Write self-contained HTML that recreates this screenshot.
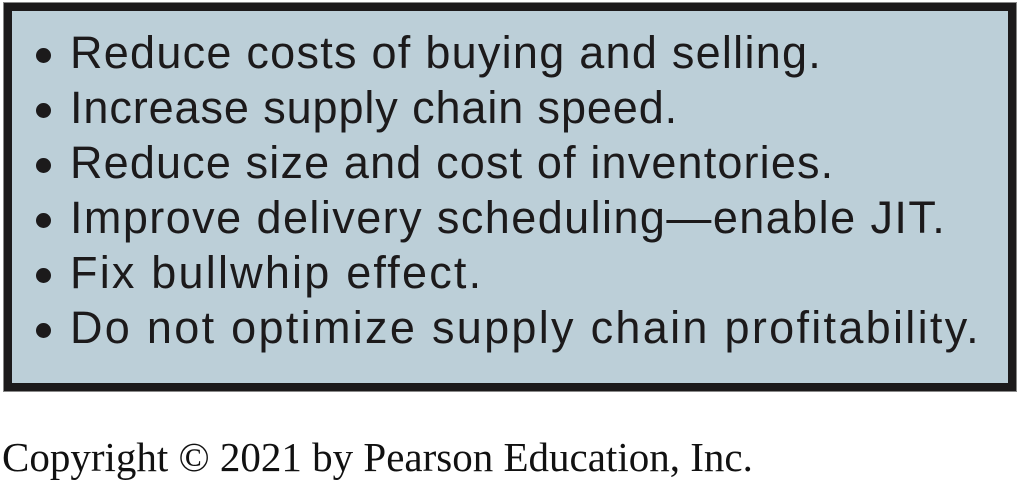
<!DOCTYPE html>
<html><head><meta charset="utf-8"><style>
body{margin:0;width:1020px;height:483px;background:#fff;position:relative;overflow:hidden}
#box{position:absolute;left:4px;top:3px;width:996px;height:372px;border:8px solid #1c1a1b;background:#bccfd8;outline:1px solid #888}
.li{position:absolute;left:70px;font-family:"Liberation Sans",sans-serif;font-size:45px;letter-spacing:2.2px;color:#1c1a1b;white-space:nowrap;line-height:1}
.b{position:absolute;left:36px;width:15px;height:15px;border-radius:50%;background:#1c1a1b}
#copy{position:absolute;left:2px;top:437px;font-family:"Liberation Serif",serif;font-size:41px;color:#111;white-space:nowrap;line-height:1}
</style></head><body>
<div id="box"></div>
<div class="b" style="top:48px"></div>
<div class="li" style="top:30px;letter-spacing:1.26px">Reduce costs of buying and selling.</div>
<div class="b" style="top:103px"></div>
<div class="li" style="top:85px;letter-spacing:0.9px">Increase supply chain speed.</div>
<div class="b" style="top:158px"></div>
<div class="li" style="top:140px;letter-spacing:1.15px">Reduce size and cost of inventories.</div>
<div class="b" style="top:213px"></div>
<div class="li" style="top:195px;letter-spacing:1.43px">Improve delivery scheduling—enable JIT.</div>
<div class="b" style="top:268px"></div>
<div class="li" style="top:250px">Fix bullwhip effect.</div>
<div class="b" style="top:323px"></div>
<div class="li" style="top:305px;letter-spacing:2.3px">Do not optimize supply chain profitability.</div>
<div id="copy">Copyright © 2021 by Pearson Education, Inc.</div>
</body></html>
